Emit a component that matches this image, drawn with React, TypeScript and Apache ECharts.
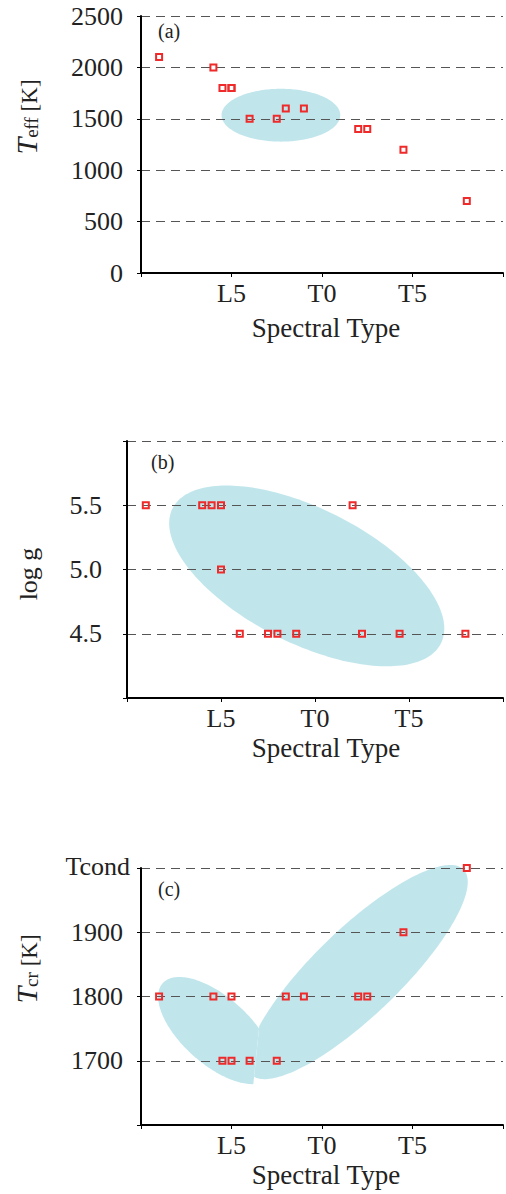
import React, { useEffect, useRef } from 'react';
import * as echarts from 'echarts';

// ---- data (spectral type index: L0 = 0, L5 = 5, T0 = 10, T5 = 15) ----
const spectralType = [1, 4, 4.5, 5, 5, 6, 7.5, 8, 9, 12, 12.5, 14.5, 18];
const teff = [2100, 2000, 1800, 1800, 1800, 1500, 1500, 1600, 1600, 1400, 1400, 1200, 700];
const logg = [5.5, 5.5, 5.5, 5.5, 5.0, 4.5, 4.5, 4.5, 4.5, 5.5, 4.5, 4.5, 4.5];
const tcr = [1800, 1800, 1700, 1800, 1700, 1700, 1700, 1800, 1800, 1800, 1800, 1900, 2000];

const xTicks = [0, 5, 10, 15, 20];
const xTickLabels = ['', 'L5', 'T0', 'T5', ''];
const teffTicks = [0, 500, 1000, 1500, 2000, 2500];
const teffTickLabels = ['0', '500', '1000', '1500', '2000', '2500'];
const loggTicks = [4, 4.5, 5, 5.5, 6];
const loggTickLabels = ['', '4.5', '5.0', '5.5', ''];
const tcrTicks = [1600, 1700, 1800, 1900, 2000];
const tcrTickLabels = ['', '1700', '1800', '1900', ''];
const tcondLabel = 'Tcond';

// shaded regions: [centerX, centerY, semiMajor (x units), semiMinor (x units), tilt deg, clipped]
const regionsA = [[7.73, 1535, 3.28, 1.46, 0, 0]];
const regionsB = [[9.56, 4.95, 7.99, 3.58, 26.7, 0]];
const regionsC = [
  [4.13, 1747, 3.93, 1.86, 41.7, 1],
  [11.96, 1838, 8.15, 2.39, -44, 1],
];
const seamC = [[6.56, 1761], [6.2, 1662]];

const FONT = 'Liberation Serif';
const TEXT = '#222';
const RED = '#ee2a2a';
const REGION = '#c0e6ec';

const grids = [
  { left: 141, top: 16, width: 368, height: 257, ymin: 0, ymax: 2500, interval: 500, ticks: teffTicks, labels: teffTickLabels, margin: 18 },
  { left: 127, top: 441, width: 381.4, height: 257, ymin: 4, ymax: 6, interval: 0.5, ticks: loggTicks, labels: loggTickLabels, margin: 25 },
  { left: 141, top: 868, width: 368, height: 257, ymin: 1600, ymax: 2000, interval: 100, ticks: tcrTicks, labels: tcrTickLabels, margin: 18 },
];

const lookup = (ticks: number[], labels: string[]) => (v: number) => {
  const i = ticks.findIndex((t) => Math.abs(t - v) < 1e-9);
  return i >= 0 ? labels[i] : '';
};

const makeRender = (seam: number[][] | null) => (params: any, api: any) => {
  const cx = api.value(0);
  const cy = api.value(1);
  const c = api.coord([cx, cy]);
  const a = Math.abs(api.coord([cx + api.value(2), cy])[0] - c[0]);
  const b = Math.abs(api.coord([cx + api.value(3), cy])[0] - c[0]);
  const th = (api.value(4) * Math.PI) / 180;
  const n = 200;
  let pts: number[][] = [];
  for (let i = 0; i < n; i++) {
    const t = (i / n) * 2 * Math.PI;
    pts.push([
      c[0] + a * Math.cos(t) * Math.cos(th) - b * Math.sin(t) * Math.sin(th),
      c[1] + a * Math.cos(t) * Math.sin(th) + b * Math.sin(t) * Math.cos(th),
    ]);
  }
  if (seam && api.value(5)) {
    const p = api.coord(seam[0]);
    const q = api.coord(seam[1]);
    const side = (pt: number[]) => (q[0] - p[0]) * (pt[1] - p[1]) - (q[1] - p[1]) * (pt[0] - p[0]);
    const s0 = Math.sign(side(c)) || 1;
    const out: number[][] = [];
    for (let i = 0; i < n; i++) {
      const A = pts[i];
      const B = pts[(i + 1) % n];
      const sa = side(A) * s0;
      const sb = side(B) * s0;
      if (sa >= 0) out.push(A);
      if (sa >= 0 !== sb >= 0) {
        const k = sa / (sa - sb);
        out.push([A[0] + k * (B[0] - A[0]), A[1] + k * (B[1] - A[1])]);
      }
    }
    pts = out;
  }
  return { type: 'polygon', shape: { points: pts }, style: { fill: REGION } };
};

const yTitleRich = {
  i: { fontFamily: FONT, fontSize: 30, fontStyle: 'italic', fill: TEXT, color: TEXT, lineHeight: 30, verticalAlign: 'bottom' },
  s: { fontFamily: FONT, fontSize: 19, fill: TEXT, color: TEXT, lineHeight: 22, verticalAlign: 'bottom' },
  n: { fontFamily: FONT, fontSize: 23, fill: TEXT, color: TEXT, lineHeight: 25, verticalAlign: 'bottom' },
  g: { fontFamily: FONT, fontSize: 26, fill: TEXT, color: TEXT, lineHeight: 30, verticalAlign: 'bottom' },
};

const textEl = (text: string, x: number, y: number, size: number, align = 'center', rotation = 0, rich?: any) => ({
  type: 'text',
  x,
  y,
  rotation,
  z: 10,
  style: {
    text,
    fill: TEXT,
    fontFamily: FONT,
    fontSize: size,
    textAlign: align,
    textVerticalAlign: 'middle',
    ...(rich ? { rich } : {}),
  },
});

export default function App() {
  const ref = useRef<HTMLDivElement>(null);
  useEffect(() => {
    if (!ref.current) return;
    const chart = echarts.init(ref.current, null, { renderer: 'svg' });
    const values = [teff, logg, tcr];
    const regions = [regionsA, regionsB, regionsC];
    const option: any = {
      animation: false,
      grid: grids.map((g) => ({ left: g.left, top: g.top, width: g.width, height: g.height })),
      xAxis: grids.map((g, i) => ({
        gridIndex: i,
        type: 'value',
        min: 0,
        max: 20,
        interval: 5,
        z: 3,
        axisLine: { show: true, onZero: false, lineStyle: { color: '#000', width: 2 } },
        axisTick: { show: true, length: 4, lineStyle: { color: '#000', width: 1 } },
        axisLabel: { formatter: lookup(xTicks, xTickLabels), margin: 7, fontSize: 26, fontFamily: FONT, color: TEXT },
        splitLine: { show: false },
      })),
      yAxis: grids.map((g, i) => ({
        gridIndex: i,
        type: 'value',
        min: g.ymin,
        max: g.ymax,
        interval: g.interval,
        z: 3,
        axisLine: { show: true, onZero: false, lineStyle: { color: '#000', width: 2 } },
        axisTick: { show: true, length: 4, lineStyle: { color: '#000', width: 1 } },
        axisLabel: { formatter: lookup(g.ticks, g.labels), margin: g.margin, fontSize: 26, fontFamily: FONT, color: TEXT },
        splitLine: { show: true, lineStyle: { color: '#555', width: 1.2, type: [9, 6] } },
      })),
      series: [
        ...regions.map((r, i) => ({
          type: 'custom',
          xAxisIndex: i,
          yAxisIndex: i,
          clip: false,
          z: 1,
          silent: true,
          renderItem: makeRender(i === 2 ? seamC : null),
          encode: { x: 0, y: 1 },
          data: r,
        })),
        ...values.map((v, i) => ({
          type: 'scatter',
          xAxisIndex: i,
          yAxisIndex: i,
          z: 4,
          symbol: 'rect',
          symbolSize: 6,
          itemStyle: { color: 'rgba(0,0,0,0)', borderColor: RED, borderWidth: 2, opacity: 1 },
          data: spectralType.map((x, j) => [x, v[j]]),
        })),
      ],
      graphic: [
        textEl('{i|T}{s|eff}{n| [K]}', 26, 117, 26, 'center', Math.PI / 2, yTitleRich),
        textEl('{g|log g}', 26, 574, 26, 'center', Math.PI / 2, yTitleRich),
        textEl('{i|T}{s|cr}{n| [K]}', 26, 969, 26, 'center', Math.PI / 2, yTitleRich),
        textEl('Spectral Type', 326, 328, 27),
        textEl('Spectral Type', 326, 747.5, 27),
        textEl('Spectral Type', 326, 1174.5, 27),
        textEl('(a)', grids[0].left + 17, grids[0].top + 15, 20, 'left'),
        textEl('(b)', grids[1].left + 24, grids[1].top + 21, 20, 'left'),
        textEl('(c)', grids[2].left + 17, grids[2].top + 21, 20, 'left'),
        textEl(tcondLabel, grids[2].left - 11, grids[2].top - 2, 26, 'right'),
      ],
    };
    chart.setOption(option);
    return () => chart.dispose();
  }, []);
  return <div ref={ref} style={{ position: 'absolute', left: 0, top: 0, width: 506, height: 1194 }} />;
}
